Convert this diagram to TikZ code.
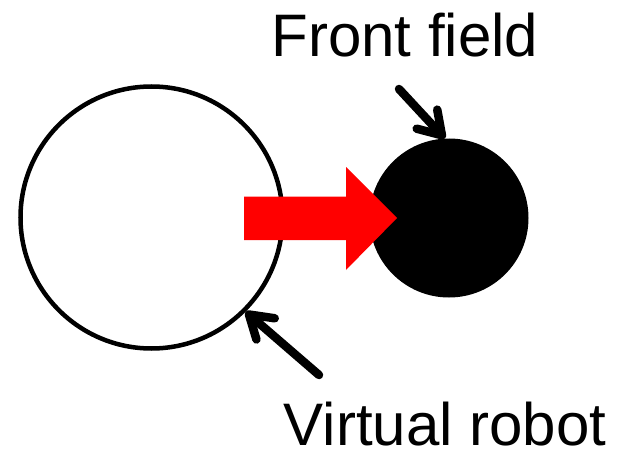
\documentclass[tikz,border=0pt]{standalone}
\usepackage{fontspec}
\setmainfont{Liberation Sans}
\usetikzlibrary{arrows.meta}
\begin{document}
\begin{tikzpicture}[x=1pt,y=-1pt,
  label text/.style={font=\fontsize{60}{60}\selectfont, inner sep=0pt, anchor=base},
  pointer/.style={line width=8.5pt, line cap=round, line join=round,
    -{Straight Barb[length=22pt,width=28pt,line cap=round,line join=round]}}]
  \useasboundingbox (0,0) rectangle (630,452);
  % virtual robot (outline) and the field in front of it (solid)
  \node[circle, draw, line width=4.5pt, minimum size=262pt, inner sep=0pt] (robot) at (151.5,217.5) {};
  \node[circle, fill=black, minimum size=159pt, inner sep=0pt] (field) at (449,218) {};
  % heading arrow
  \fill[red] (244,196.5) -- (346,196.5) -- (346,167) -- (397,218)
    -- (346,270) -- (346,240) -- (244,240) -- cycle;
  % labels
  \node[label text] (ftext) at (405,57) {Front field};
  \node[label text] (vtext) at (445,445) {Virtual robot};
  \coordinate (fstart) at (399,89);
  \coordinate (vstart) at (319,375);
  \draw[pointer] (fstart) -- (field.93);
  \draw[pointer] (vstart) -- (robot.-45);
\end{tikzpicture}
\end{document}
